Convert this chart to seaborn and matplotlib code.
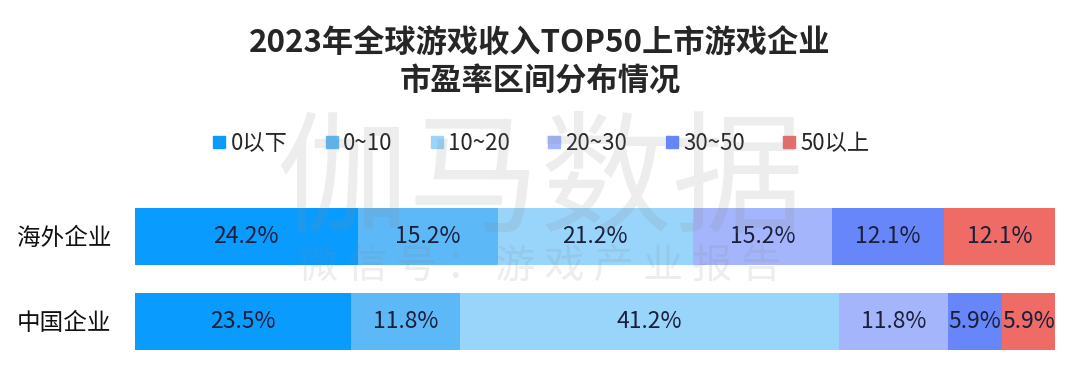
import matplotlib
matplotlib.use("Agg")
import matplotlib.pyplot as plt
from matplotlib.lines import Line2D
import numpy as np
import seaborn as sns

companies = ["海外企业", "中国企业"]
ranges = ["0以下", "0~10", "10~20", "20~30", "30~50", "50以上"]
overseas = [24.2, 15.2, 21.2, 15.2, 12.1, 12.1]
china = [23.5, 11.8, 41.2, 11.8, 5.9, 5.9]
colors = ["#0A9BFF", "#5CB8F6", "#99D5FB", "#A4B5FB", "#6686FA", "#EE6B66"]

sns.set_theme(style="white")
plt.rcParams["font.family"] = ["Noto Sans CJK SC", "DejaVu Sans"]

vals = np.array([overseas, china])   # rows: companies, cols: ranges
cum = vals.cumsum(axis=1)

fig = plt.figure(figsize=(10.8, 3.91), dpi=100)
ax = fig.add_axes([0.125, 0.070, 0.852, 0.435])

# stacked bars: draw cumulative totals from largest to smallest
for i in reversed(range(len(ranges))):
    sns.barplot(x=cum[:, i], y=companies, color=colors[i], width=0.67,
                orient="h", ax=ax, saturation=1, linewidth=0)

for r in range(len(companies)):
    for i in range(len(ranges)):
        ax.text(cum[r, i] - vals[r, i] / 2, r, f"{vals[r, i]:.1f}%",
                ha="center", va="center", fontsize=16.5, color="#1b1f3a")

ax.set_xlim(0, 100)
ax.set_ylim(1.5, -0.5)
ax.set_xticks([])
ax.set_xlabel("")
ax.set_ylabel("")
ax.tick_params(axis="y", length=0, pad=17, labelsize=17, labelcolor="#111111")
sns.despine(ax=ax, left=True, bottom=True)

fig.suptitle("2023年全球游戏收入TOP50上市游戏企业\n市盈率区间分布情况",
             x=0.5, y=0.93, fontsize=22.5, fontweight="bold", linespacing=1.25)

handles = [Line2D([], [], marker="s", linestyle="", markersize=9,
                  markerfacecolor=c, markeredgecolor=c) for c in colors]
fig.legend(handles, ranges, loc="center", bbox_to_anchor=(0.5, 0.634),
           ncol=6, frameon=False, fontsize=16, handletextpad=0.1,
           columnspacing=1.6, handlelength=0.8)

# watermark
fig.text(0.5, 0.53, "伽马数据", ha="center", va="center", fontsize=95,
         color="#888888", alpha=0.15, zorder=10)
fig.text(0.5, 0.318, "微 信 号 ： 游 戏 产 业 报 告", ha="center", va="center",
         fontsize=29, color="#888888", alpha=0.15, zorder=10)

fig.savefig("out.png", dpi=100)
